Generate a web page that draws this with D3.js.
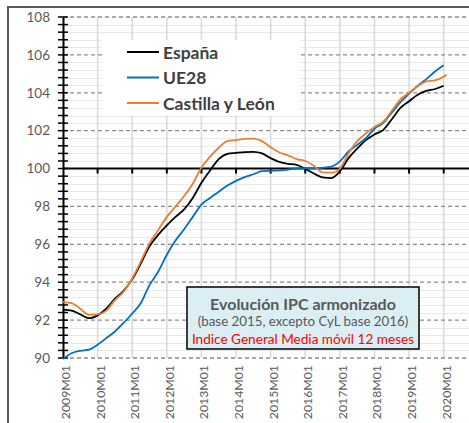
<!DOCTYPE html>
<html><head><meta charset="utf-8">
<script src="https://cdn.jsdelivr.net/npm/d3@7"></script>
<style>
html,body{margin:0;padding:0;background:#fff;}
svg{display:block;font-family:Lato,"Open Sans",sans-serif;}
</style></head>
<body>
<svg id="chart" width="469" height="423"></svg>
<script>
// ---- data ----
const months = ["2009M01","2009M04","2009M07","2009M10","2010M01","2010M04","2010M07","2010M10",
"2011M01","2011M04","2011M07","2011M10","2012M01","2012M04","2012M07","2012M10",
"2013M01","2013M04","2013M07","2013M10","2014M01","2014M04","2014M07","2014M10",
"2015M01","2015M04","2015M07","2015M10","2016M01","2016M04","2016M07","2016M10",
"2017M01","2017M04","2017M07","2017M10","2018M01","2018M04","2018M07","2018M10",
"2019M01","2019M04","2019M07","2019M10","2020M01","2020M02"];
const espana = [92.55,92.5,92.3,92.1,92.25,92.6,93.13,93.55,
94.15,95.0,95.9,96.5,97.0,97.45,97.85,98.45,
99.25,99.9,100.5,100.78,100.83,100.87,100.88,100.8,
100.55,100.35,100.25,100.2,99.98,99.74,99.53,99.5,
99.85,100.55,101.05,101.5,101.8,102.03,102.6,103.2,
103.55,103.9,104.1,104.2,104.37,null];
const ue28 = [89.95,90.25,90.38,90.44,90.7,91.05,91.4,91.85,
92.35,92.9,93.85,94.55,95.45,96.2,96.8,97.45,
98.1,98.45,98.78,99.1,99.35,99.55,99.7,99.86,
99.88,99.9,99.95,100.0,100.02,100.02,100.04,100.1,
100.38,100.9,101.25,101.6,102.1,102.4,102.95,103.5,
103.95,104.38,104.72,105.12,105.45,null];
const cyl = [92.95,92.9,92.6,92.28,92.3,92.5,93.05,93.5,
94.2,95.1,96.05,96.75,97.45,98.0,98.55,99.2,
100.05,100.63,101.1,101.45,101.5,101.57,101.58,101.45,
101.12,100.85,100.7,100.5,100.4,100.15,99.8,99.78,
100.0,100.8,101.45,101.85,102.2,102.47,103.05,103.65,
104.0,104.35,104.6,104.66,104.85,104.95];
const yearLabels = ["2009M01","2010M01","2011M01","2012M01","2013M01","2014M01","2015M01","2016M01","2017M01","2018M01","2019M01","2020M01"];
const yTicks = [90,92,94,96,98,100,102,104,106,108];
const seriesNames = ["España","UE28","Castilla y León"];
const seriesColors = ["#000000","#0070C0","#ED7D31"];
const titleLines = ["Evolución IPC armonizado","(base 2015, excepto CyL base 2016)","Indice General Media móvil 12 meses"];

// ---- helpers ----
const idx = s => (+s.slice(0,4)-2009)*12 + (+s.slice(5)-1);

const svg = d3.select("#chart");
const W = 469;
const x = d3.scaleLinear().domain([0,132]).range([63,443.7]);
const y = d3.scaleLinear().domain([90,108]).range([358,17]);

// outer frame
svg.append("rect").attr("x",8).attr("y",7).attr("width",520).attr("height",520)
  .attr("fill","none").attr("stroke","#595959").attr("stroke-width",2);

// minor horizontal gridlines
const minor = d3.range(90,108.001,0.4).filter(v=>Math.abs(v-Math.round(v/2)*2)>0.01);
svg.append("g").selectAll("line").data(minor).join("line")
  .attr("x1",x(0)).attr("x2",W).attr("y1",d=>Math.round(y(d))+0.5).attr("y2",d=>Math.round(y(d))+0.5)
  .attr("stroke","#e8e8e8").attr("stroke-width",1);

// vertical gridlines
svg.append("g").selectAll("line").data(yearLabels.slice(1)).join("line")
  .attr("x1",d=>x(idx(d))).attr("x2",d=>x(idx(d))).attr("y1",y(108)).attr("y2",y(90))
  .attr("stroke","#d9d9d9").attr("stroke-width",1.5);

// major dashed gridlines
svg.append("g").selectAll("line").data(yTicks.filter(v=>v!==100)).join("line")
  .attr("x1",x(0)).attr("x2",W).attr("y1",d=>y(d)).attr("y2",d=>y(d))
  .attr("stroke","#8c8c8c").attr("stroke-width",1.3).attr("stroke-dasharray","4,3");

// legend background
svg.append("rect").attr("x",102).attr("y",40).attr("width",198).attr("height",76).attr("fill","#fff");

// y axis
const yAxis = d3.axisLeft(y).tickValues(yTicks).tickSize(0).tickPadding(13).tickFormat(d3.format("d"));
const gy = svg.append("g").attr("transform",`translate(${x(0)},0)`).call(yAxis);
gy.select(".domain").attr("stroke","#000").attr("stroke-width",2);
gy.selectAll("text").attr("fill","#595959").attr("font-size",13.5).attr("font-family","Lato,sans-serif");
// minor & major tick marks crossing axis
svg.append("g").selectAll("line").data(d3.range(90,108.001,0.4)).join("line")
  .attr("x1",x(0)-5).attr("x2",x(0)+5).attr("y1",d=>y(d)).attr("y2",d=>y(d))
  .attr("stroke","#000").attr("stroke-width",1.5);

// x axis at 100
svg.append("line").attr("x1",x(0)).attr("x2",W).attr("y1",y(100)).attr("y2",y(100))
  .attr("stroke","#000").attr("stroke-width",2);
svg.append("g").selectAll("line").data(yearLabels.slice(1)).join("line")
  .attr("x1",d=>x(idx(d))).attr("x2",d=>x(idx(d))).attr("y1",y(100)).attr("y2",y(100)+5)
  .attr("stroke","#000").attr("stroke-width",2);

// x labels
svg.append("g").selectAll("text").data(yearLabels).join("text")
  .attr("transform",d=>`translate(${x(idx(d))+2.5},365) rotate(-90)`)
  .attr("text-anchor","end").attr("dominant-baseline","central")
  .attr("fill","#595959").attr("font-size",12.3).text(d=>d);

// series lines
const line = d3.line().defined(d=>d.v!=null).x(d=>x(d.m)).y(d=>y(d.v)).curve(d3.curveMonotoneX);
[espana,ue28,cyl].forEach((arr,i)=>{
  const pts = months.map((m,j)=>({m:idx(m),v:arr[j]})).filter(d=>d.v!=null);
  svg.append("path").datum(pts).attr("d",line).attr("fill","none")
    .attr("stroke",seriesColors[i]).attr("stroke-width",1.8);
});

// legend
const lg = svg.append("g");
seriesNames.forEach((n,i)=>{
  const ly = 52 + i*25.5;
  lg.append("line").attr("x1",127).attr("x2",159).attr("y1",ly).attr("y2",ly)
    .attr("stroke",seriesColors[i]).attr("stroke-width",2);
  lg.append("text").attr("x",163).attr("y",ly).attr("dominant-baseline","central")
    .attr("font-size",17.5).attr("font-weight","bold").attr("fill","#404040").text(n);
});

// title box
svg.append("rect").attr("x",187).attr("y",287).attr("width",232).attr("height",62)
  .attr("fill","#DAEEF3").attr("stroke","#000").attr("stroke-width",1.5);
const tcx = 303;
svg.append("text").attr("x",tcx).attr("y",303).attr("text-anchor","middle").attr("dominant-baseline","central")
  .attr("font-size",16).attr("font-weight","bold").attr("fill","#595959").text(titleLines[0]);
svg.append("text").attr("x",tcx).attr("y",321).attr("text-anchor","middle").attr("dominant-baseline","central")
  .attr("font-size",13.3).attr("fill","#595959").text(titleLines[1]);
svg.append("text").attr("x",tcx).attr("y",338.5).attr("text-anchor","middle").attr("dominant-baseline","central")
  .attr("font-size",13.6).attr("fill","#FF0000").text(titleLines[2]);
</script>
</body></html>
